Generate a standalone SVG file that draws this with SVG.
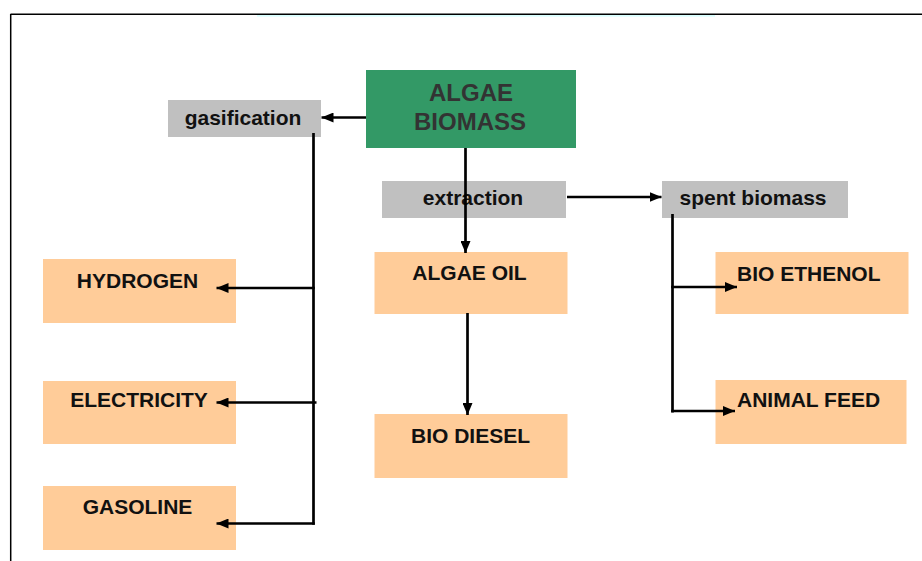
<svg xmlns="http://www.w3.org/2000/svg" width="922" height="561" viewBox="0 0 922 561">
<style>
  .orange { fill: #FFCC99; }
  .gray { fill: #C0C0C0; }
  .green { fill: #339966; }
  .lbl { font-family: "Liberation Sans", Arial, sans-serif; font-weight: bold; font-size: 21px; fill: #111111; }
  .glbl { font-family: "Liberation Sans", Arial, sans-serif; font-weight: bold; font-size: 24px; fill: #333333; text-anchor: middle; }
  .mid { text-anchor: middle; }
  .conn { fill: none; stroke: #000000; stroke-width: 2.7; }
  .arr { marker-end: url(#ah); }
</style>
<defs>
  <marker id="ah" markerUnits="userSpaceOnUse" markerWidth="12" markerHeight="10" refX="12" refY="5" orient="auto">
    <path d="M0,0 L12,5 L0,10 z" fill="#000000"/>
  </marker>
</defs>
<rect x="0" y="0" width="922" height="561" fill="#FFFFFF"/>
<g id="frame">
  <line x1="257" y1="15.8" x2="715" y2="15.8" stroke="#CCFFFF" stroke-width="1.2"/>
  <line x1="10.5" y1="14.2" x2="922" y2="14.2" stroke="#000000" stroke-width="1.5"/>
  <line x1="10.7" y1="14" x2="10.7" y2="561" stroke="#000000" stroke-width="1.5"/>
</g>
<g id="algae-biomass">
  <rect class="green" x="366" y="70" width="210" height="78"/>
  <text class="glbl" x="471" y="100.5">ALGAE</text>
  <text class="glbl" x="470" y="130">BIOMASS</text>
</g>
<g id="gasification">
  <rect class="gray" x="168" y="100" width="153" height="37"/>
  <text class="lbl mid" x="243" y="125">gasification</text>
</g>
<g id="extraction">
  <rect class="gray" x="382" y="181" width="184" height="37"/>
  <text class="lbl mid" x="473" y="205">extraction</text>
</g>
<g id="spent-biomass">
  <rect class="gray" x="662" y="181" width="186" height="37"/>
  <text class="lbl mid" x="753" y="205">spent biomass</text>
</g>
<g id="hydrogen">
  <rect class="orange" x="43" y="259" width="193" height="64"/>
  <text class="lbl mid" x="137.5" y="288">HYDROGEN</text>
</g>
<g id="electricity">
  <rect class="orange" x="43" y="381" width="193" height="63"/>
  <text class="lbl mid" x="139" y="407">ELECTRICITY</text>
</g>
<g id="gasoline">
  <rect class="orange" x="43" y="486" width="193" height="64"/>
  <text class="lbl mid" x="137.5" y="514">GASOLINE</text>
</g>
<g id="algae-oil">
  <rect class="orange" x="374.5" y="252" width="193" height="62"/>
  <text class="lbl mid" x="469.5" y="280">ALGAE OIL</text>
</g>
<g id="bio-diesel">
  <rect class="orange" x="374.5" y="414" width="193" height="64"/>
  <text class="lbl mid" x="470.5" y="443">BIO DIESEL</text>
</g>
<g id="bio-ethenol">
  <rect class="orange" x="715.5" y="252" width="193" height="62"/>
  <text class="lbl" x="737" y="280.5">BIO ETHENOL</text>
</g>
<g id="animal-feed">
  <rect class="orange" x="715.5" y="380" width="191" height="64"/>
  <text class="lbl" x="737" y="406.5">ANIMAL FEED</text>
</g>
<g id="connectors">
  <line class="conn arr" x1="366" y1="117.5" x2="321.5" y2="117.5"/>
  <line class="conn" x1="313.5" y1="133" x2="313.5" y2="524.8"/>
  <line class="conn arr" x1="314.8" y1="288" x2="216.5" y2="288"/>
  <line class="conn arr" x1="316.5" y1="402.5" x2="216.5" y2="402.5"/>
  <line class="conn arr" x1="314.8" y1="523.5" x2="216.5" y2="523.5"/>
  <line class="conn arr" x1="465.5" y1="148" x2="465.5" y2="253"/>
  <line class="conn arr" x1="567" y1="197" x2="661.5" y2="197"/>
  <line class="conn" x1="672.5" y1="214" x2="672.5" y2="412.5"/>
  <line class="conn arr" x1="671.2" y1="287" x2="737" y2="287"/>
  <path class="conn arr" d="M671.2,411 L735,411" stroke-width="3"/>
  <line class="conn arr" x1="467.5" y1="313" x2="467.5" y2="415"/>
</g>
</svg>
